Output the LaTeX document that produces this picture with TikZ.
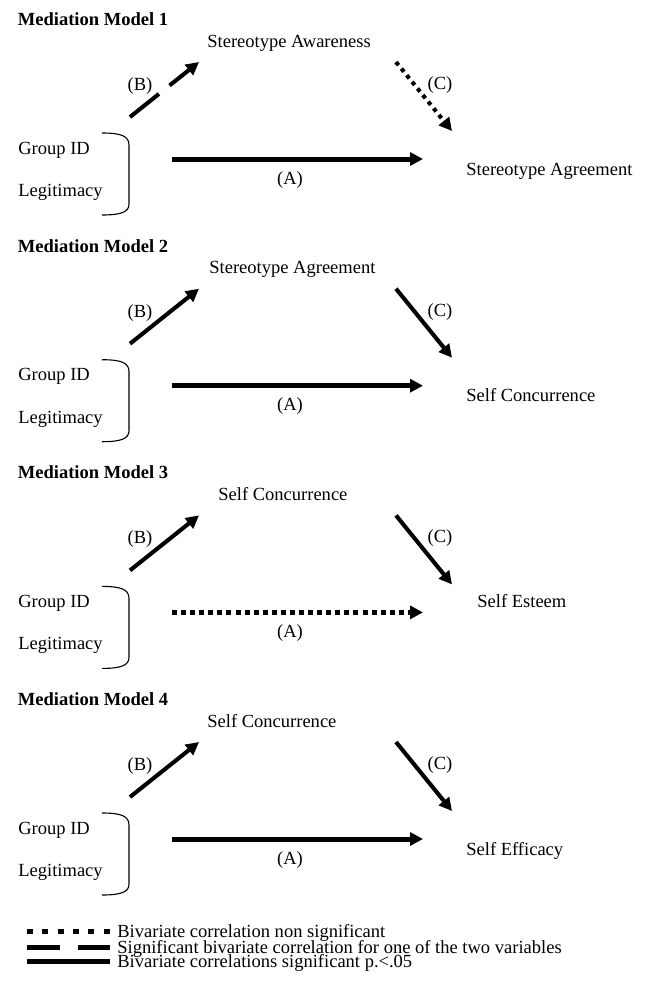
\documentclass[tikz,border=0pt]{standalone}
\usepackage{fontspec}
\setmainfont{Liberation Serif}
\usetikzlibrary{arrows.meta}
\tikzset{
  txt/.style={inner sep=0pt, anchor=base west},
  ttl/.style={inner sep=0pt, anchor=base west, font=\bfseries},
  tag/.style={inner sep=0pt, anchor=base},
  brace/.style={line width=0.6pt},
  tip/.style={-{Triangle[length=7pt,width=7pt]}},
  sigpath/.style={tip, line width=2.2pt},
  onepath/.style={tip, line width=2.2pt, dash pattern=on 20pt off 7.3pt},
  nonpath/.style={tip, line width=2.2pt, dash pattern=on 2.2pt off 2.4pt},
  sigmain/.style={tip, line width=2.7pt},
  nonmain/.style={tip, line width=2.7pt, dash pattern=on 2.7pt off 2.2pt},
  keyline/.style={line width=2.4pt}
}
\begin{document}
\begin{tikzpicture}[x=0.54pt,y=-0.54pt]
  \useasboundingbox (0,0) rectangle (648,989);
  \begin{scope}
    \node[ttl] (m1title) at (17.5,25.5) {Mediation Model 1};
    \node[txt] (m1top) at (207,47) {Stereotype Awareness};
    \node[txt] (m1gid) at (18,154) {Group ID};
    \node[txt] (m1leg) at (18,196.5) {Legitimacy};
    \node[txt] (m1out) at (466,175) {Stereotype Agreement};
    \node[tag] (m1b) at (140,90.5) {(B)};
    \node[tag] (m1c) at (440,89.5) {(C)};
    \node[tag] (m1a) at (290,184) {(A)};
    \coordinate (m1bs) at (130,117);
    \coordinate (m1be) at (199,62);
    \coordinate (m1cs) at (396,62);
    \coordinate (m1ce) at (452,131);
    \coordinate (m1as) at (172,159);
    \coordinate (m1ae) at (423,159);
    \draw[brace] (102,133) .. controls (121,133) and (129,136) .. (129,145)
      -- (129,204) .. controls (129,212) and (121,215) .. (102,215);
    \draw[onepath] (m1bs) -- (m1be);
    \draw[nonpath] (m1cs) -- (m1ce);
    \draw[sigmain] (m1as) -- (m1ae);
  \end{scope}
  \begin{scope}[shift={(0,226.7)}]
    \node[ttl] (m2title) at (17.5,25.5) {Mediation Model 2};
    \node[txt] (m2top) at (209,47) {Stereotype Agreement};
    \node[txt] (m2gid) at (18,154) {Group ID};
    \node[txt] (m2leg) at (18,196.5) {Legitimacy};
    \node[txt] (m2out) at (466,175) {Self Concurrence};
    \node[tag] (m2b) at (140,90.5) {(B)};
    \node[tag] (m2c) at (440,89.5) {(C)};
    \node[tag] (m2a) at (290,184) {(A)};
    \coordinate (m2bs) at (130,117);
    \coordinate (m2be) at (199,62);
    \coordinate (m2cs) at (396,62);
    \coordinate (m2ce) at (452,131);
    \coordinate (m2as) at (172,159);
    \coordinate (m2ae) at (423,159);
    \draw[brace] (102,133) .. controls (121,133) and (129,136) .. (129,145)
      -- (129,204) .. controls (129,212) and (121,215) .. (102,215);
    \draw[sigpath] (m2bs) -- (m2be);
    \draw[sigpath] (m2cs) -- (m2ce);
    \draw[sigmain] (m2as) -- (m2ae);
  \end{scope}
  \begin{scope}[shift={(0,453.4)}]
    \node[ttl] (m3title) at (17.5,25.5) {Mediation Model 3};
    \node[txt] (m3top) at (218,47) {Self Concurrence};
    \node[txt] (m3gid) at (18,154) {Group ID};
    \node[txt] (m3leg) at (18,196.5) {Legitimacy};
    \node[txt] (m3out) at (477,153.6) {Self Esteem};
    \node[tag] (m3b) at (140,90.5) {(B)};
    \node[tag] (m3c) at (440,89.5) {(C)};
    \node[tag] (m3a) at (290,184) {(A)};
    \coordinate (m3bs) at (130,117);
    \coordinate (m3be) at (199,62);
    \coordinate (m3cs) at (396,62);
    \coordinate (m3ce) at (452,131);
    \coordinate (m3as) at (172,159);
    \coordinate (m3ae) at (423,159);
    \draw[brace] (102,133) .. controls (121,133) and (129,136) .. (129,145)
      -- (129,204) .. controls (129,212) and (121,215) .. (102,215);
    \draw[sigpath] (m3bs) -- (m3be);
    \draw[sigpath] (m3cs) -- (m3ce);
    \draw[nonmain] (m3as) -- (m3ae);
  \end{scope}
  \begin{scope}[shift={(0,680)}]
    \node[ttl] (m4title) at (17.5,25.5) {Mediation Model 4};
    \node[txt] (m4top) at (207,47) {Self Concurrence};
    \node[txt] (m4gid) at (18,154) {Group ID};
    \node[txt] (m4leg) at (18,196.5) {Legitimacy};
    \node[txt] (m4out) at (466,175) {Self Efficacy};
    \node[tag] (m4b) at (140,90.5) {(B)};
    \node[tag] (m4c) at (440,89.5) {(C)};
    \node[tag] (m4a) at (290,184) {(A)};
    \coordinate (m4bs) at (130,117);
    \coordinate (m4be) at (199,62);
    \coordinate (m4cs) at (396,62);
    \coordinate (m4ce) at (452,131);
    \coordinate (m4as) at (172,159);
    \coordinate (m4ae) at (423,159);
    \draw[brace] (102,133) .. controls (121,133) and (129,136) .. (129,145)
      -- (129,204) .. controls (129,212) and (121,215) .. (102,215);
    \draw[sigpath] (m4bs) -- (m4be);
    \draw[sigpath] (m4cs) -- (m4ce);
    \draw[sigmain] (m4as) -- (m4ae);
  \end{scope}
  \coordinate (k1s) at (27,931.7);
  \coordinate (k1e) at (110,931.7);
  \coordinate (k2s) at (27,947.7);
  \coordinate (k2e) at (110,947.7);
  \coordinate (k3s) at (27,961.7);
  \coordinate (k3e) at (110,961.7);
  \draw[keyline, dash pattern=on 3.2pt off 5.1pt] (k1s) -- (k1e);
  \draw[keyline, dash pattern=on 17.8pt off 9.7pt] (k2s) -- (k2e);
  \draw[keyline] (k3s) -- (k3e);
  \node[txt] (k1) at (117,937) {Bivariate correlation non significant};
  \node[txt] (k2) at (117,953.3) {Significant bivariate correlation for one of the two variables};
  \node[txt] (k3) at (117,967.3) {Bivariate correlations significant p.<.05};
\end{tikzpicture}
\end{document}
